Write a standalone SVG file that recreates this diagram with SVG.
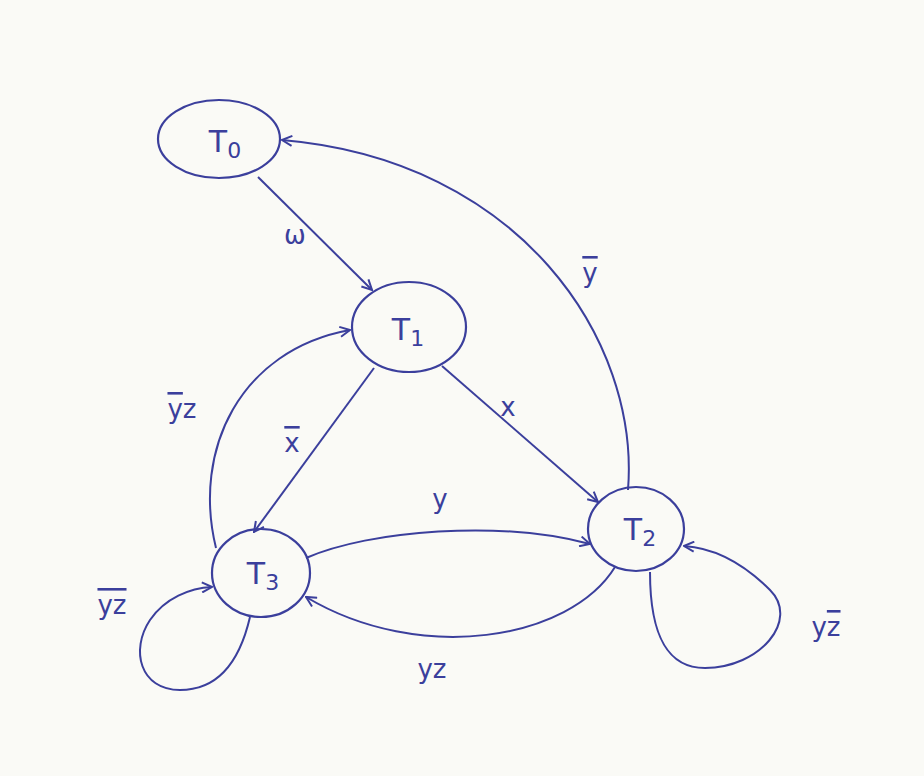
<svg xmlns="http://www.w3.org/2000/svg" width="924" height="776" viewBox="0 0 924 776">
<defs>
<style>
.st{fill:none;stroke:#3b3f9c;stroke-width:2.2;stroke-linecap:round;stroke-linejoin:round}
.ed{fill:none;stroke:#3b3f9c;stroke-width:2;marker-end:url(#arr)}
.nt{font-family:"DejaVu Sans","Liberation Sans",sans-serif;font-size:30px;fill:#3b3f9c;text-anchor:middle}
.sub{font-size:22px}
.lb{font-family:"DejaVu Sans","Liberation Sans",sans-serif;font-size:26px;fill:#3b3f9c;text-anchor:middle}
.ov{text-decoration:overline}
</style>
<marker id="arr" viewBox="0 0 12 12" refX="11" refY="6" markerWidth="12" markerHeight="12" markerUnits="userSpaceOnUse" orient="auto">
<path d="M1,1 L11,6 L1,11" fill="none" stroke="#3b3f9c" stroke-width="2"/>
</marker>
</defs>
<rect width="924" height="776" fill="#fafaf6"/>
<g id="connectors">
<path class="ed" d="M258 177 L372 290"/>
<path class="ed" d="M628 490 C640 340 520 160 282 140"/>
<path class="ed" d="M442 366 L598 502"/>
<path class="ed" d="M374 368 L254 532"/>
<path class="ed" d="M216 548 C192 450 240 350 350 330"/>
<path class="ed" d="M306 558 C370 530 500 520 590 544"/>
<path class="ed" d="M615 567 C570 640 420 665 306 597"/>
<path class="ed" d="M650 572 C650 640 670 668 705 668 C760 668 800 620 770 590 C745 565 715 548 684 546"/>
<path class="ed" d="M250 617 C240 660 220 690 180 690 C140 690 130 650 150 620 C165 598 190 588 212 587"/>
<text class="lb" x="295" y="244">ω</text>
<text class="lb" x="590" y="282"><tspan class="ov">y</tspan></text>
<text class="lb" x="508" y="416">x</text>
<text class="lb" x="292" y="452"><tspan class="ov">x</tspan></text>
<text class="lb" x="182" y="418"><tspan class="ov">y</tspan>z</text>
<text class="lb" x="440" y="508">y</text>
<text class="lb" x="432" y="678">yz</text>
<text class="lb" x="826" y="636">y<tspan class="ov">z</tspan></text>
<text class="lb" x="112" y="614"><tspan class="ov">yz</tspan></text>
</g>
<g id="T0">
<ellipse class="st" cx="219" cy="139" rx="61" ry="39"/>
<text class="nt" x="225" y="152">T<tspan class="sub" dy="6">0</tspan></text>
</g>
<g id="T1">
<ellipse class="st" cx="409" cy="327" rx="57" ry="45"/>
<text class="nt" x="408" y="340">T<tspan class="sub" dy="6">1</tspan></text>
</g>
<g id="T2">
<ellipse class="st" cx="636" cy="529" rx="48" ry="42"/>
<text class="nt" x="640" y="540">T<tspan class="sub" dy="6">2</tspan></text>
</g>
<g id="T3">
<ellipse class="st" cx="261" cy="573" rx="49" ry="44"/>
<text class="nt" x="263" y="584">T<tspan class="sub" dy="6">3</tspan></text>
</g>
</svg>
